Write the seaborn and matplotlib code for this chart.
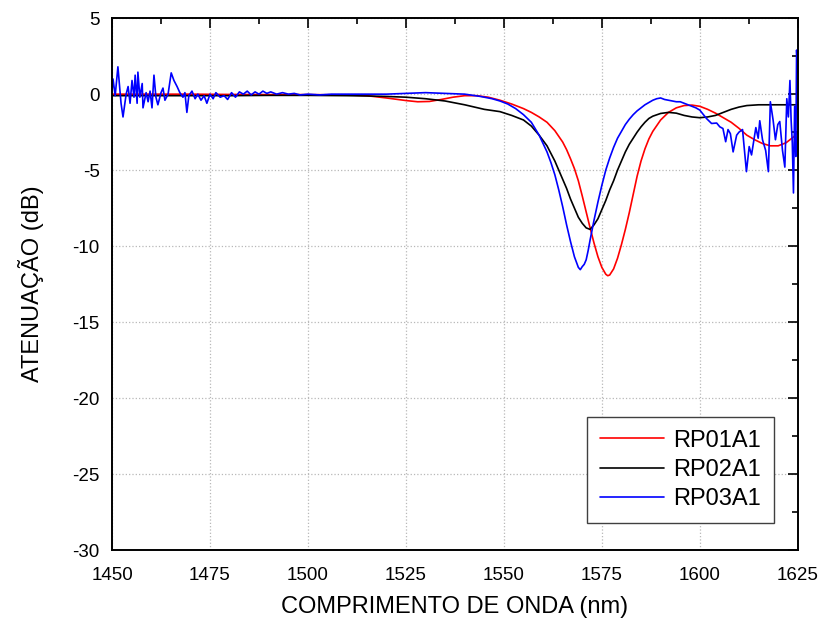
import matplotlib
matplotlib.use("Agg")
import matplotlib.pyplot as plt
from matplotlib.ticker import MultipleLocator
import seaborn as sns
import pandas as pd

# RP01A1 (vermelho)
red_wl = [1450, 1460, 1470, 1480, 1490, 1500, 1510, 1515, 1520, 1525, 1528, 1531, 1534,
          1537, 1540, 1543, 1546, 1549, 1552, 1555, 1557, 1559, 1561, 1563, 1565, 1566,
          1567, 1568, 1569, 1570, 1571, 1572, 1573, 1574, 1575, 1576, 1576.5, 1577, 1578,
          1579, 1580, 1581, 1582, 1583, 1584, 1585, 1586, 1587, 1588, 1590, 1592, 1594,
          1596, 1598, 1600, 1602, 1604, 1606, 1608, 1610, 1612, 1614, 1616, 1618, 1620,
          1622, 1624, 1625]
red_db = [0.0, 0.0, 0.0, -0.02, -0.03, -0.03, -0.05, -0.1, -0.25, -0.42, -0.5, -0.48, -0.35,
          -0.2, -0.1, -0.1, -0.2, -0.4, -0.65, -0.95, -1.2, -1.5, -1.85, -2.4, -3.15, -3.65,
          -4.25, -4.9, -5.7, -6.7, -7.75, -8.8, -9.8, -10.7, -11.4, -11.85, -11.95, -11.9, -11.5,
          -10.8, -9.9, -8.9, -7.8, -6.6, -5.4, -4.4, -3.6, -2.95, -2.45, -1.7, -1.2, -0.9,
          -0.75, -0.72, -0.8, -1.0, -1.25, -1.55, -1.85, -2.25, -2.7, -3.0, -3.25, -3.4, -3.4,
          -3.2, -2.8, -2.5]

# RP02A1 (preto)
black_wl = [1450, 1460, 1470, 1480, 1490, 1500, 1510, 1515, 1520, 1525, 1530, 1535, 1540,
            1545, 1549, 1552, 1555, 1557, 1559, 1561, 1563, 1565, 1566, 1567, 1568, 1569,
            1570, 1571, 1572, 1573, 1574, 1575, 1576, 1577, 1578, 1579, 1580, 1581, 1582,
            1583, 1584, 1585, 1586, 1587, 1588, 1590, 1592, 1594, 1596, 1598, 1600, 1602,
            1604, 1606, 1608, 1610, 1612, 1615, 1620, 1625]
black_db = [-0.1, -0.1, -0.1, -0.1, -0.08, -0.08, -0.1, -0.12, -0.15, -0.2, -0.3, -0.45, -0.7,
            -1.0, -1.15, -1.4, -1.7, -2.1, -2.7, -3.4, -4.4, -5.6, -6.2, -6.9, -7.5, -8.1,
            -8.5, -8.8, -8.9, -8.6, -8.2, -7.6, -7.0, -6.3, -5.7, -5.0, -4.4, -3.8, -3.3,
            -2.9, -2.5, -2.15, -1.85, -1.6, -1.45, -1.27, -1.2, -1.25, -1.4, -1.5, -1.55, -1.5,
            -1.4, -1.2, -1.0, -0.85, -0.75, -0.7, -0.7, -0.7]

# RP03A1 (azul)
blue_wl = [1450.0, 1450.25, 1450.8, 1451.5, 1452.3, 1452.8, 1453.6, 1454.1, 1454.6, 1455.1,
           1455.6, 1455.9, 1456.4, 1456.6, 1457.1, 1457.7, 1457.9, 1458.7, 1459.2, 1459.7,
           1460.2, 1460.7, 1461.2, 1461.7, 1462.5, 1463.0, 1463.5, 1464.3, 1465.1, 1465.8,
           1466.6, 1467.3, 1468.1, 1468.6, 1469.1, 1469.6, 1470.4, 1471.2, 1471.9, 1472.7,
           1473.5, 1474.2, 1475.0, 1475.8, 1476.5, 1477.6, 1478.6, 1479.5, 1480.5, 1481.5,
           1482.5, 1483.5, 1484.5, 1485.5, 1486.5, 1487.5, 1488.5, 1489.5, 1490.5, 1492,
           1493.5, 1495, 1496.5, 1498, 1500, 1503, 1506, 1510, 1515, 1520, 1525, 1530, 1535,
           1540, 1544, 1547, 1549, 1551, 1553, 1555, 1557, 1559, 1561, 1562, 1563, 1564,
           1565, 1566, 1567, 1568, 1569, 1569.5, 1570, 1570.5, 1571, 1571.5, 1572, 1573,
           1574, 1575, 1576, 1577, 1578, 1579, 1580, 1581, 1582, 1583, 1584, 1585, 1586,
           1587, 1588, 1589, 1590, 1591, 1592, 1593, 1594, 1595, 1596, 1597, 1598, 1599,
           1600, 1601.7, 1603, 1604.3, 1605.1, 1605.9, 1606.6, 1607.2, 1607.8, 1608.5,
           1609.4, 1610.0, 1610.9, 1611.9, 1612.6, 1613.2, 1614.3, 1614.9, 1615.3, 1616.0,
           1616.8, 1617.5, 1618.0, 1618.7, 1619.3, 1619.9, 1620.4, 1621.1, 1621.7, 1622.2,
           1622.6, 1623.0, 1623.3, 1623.6, 1623.9, 1624.2, 1624.5, 1624.7, 1625.0]
blue_db = [0.2, 1.0, -0.1, 1.8, -0.6, -1.5, 0.0, 0.5, -0.6, 0.9,
           -0.2, 1.25, -0.6, 1.45, -0.2, 0.7, -0.9, 0.1, -0.5, 0.2,
           -0.9, 1.25, -0.2, -0.7, 0.1, 0.4, -0.4, 0.0, 1.4, 0.9,
           0.5, 0.1, -0.2, 0.1, -1.2, -0.1, 0.2, -0.3, 0.0, -0.4,
           -0.1, -0.6, 0.0, -0.3, 0.1, -0.2, -0.1, -0.35, 0.1, -0.2,
           0.15, 0.0, 0.2, -0.05, 0.15, 0.0, 0.2, 0.05, 0.15, 0.0,
           0.1, 0.0, 0.05, -0.05, 0.0, -0.05, 0.0, 0.0, 0.0, 0.0, 0.05, 0.1, 0.05,
           0.0, -0.15, -0.3, -0.45, -0.65, -0.95, -1.35, -1.85, -2.7, -3.8, -4.5, -5.3, -6.3,
           -7.4, -8.6, -9.7, -10.7, -11.4, -11.55, -11.35, -11.2, -10.9, -10.3, -9.6, -8.3,
           -7.1, -6.0, -5.0, -4.2, -3.5, -2.9, -2.45, -2.0, -1.65, -1.35, -1.1, -0.9, -0.7,
           -0.55, -0.4, -0.3, -0.25, -0.35, -0.4, -0.45, -0.5, -0.5, -0.6, -0.7, -0.8, -0.9,
           -1.05, -1.6, -1.93, -1.9, -2.15, -2.26, -3.13, -2.33, -2.6, -3.8,
           -2.7, -2.5, -2.33, -5.1, -3.45, -4.0, -2.2, -2.9, -1.75, -3.0,
           -3.7, -5.1, -0.5, -1.7, -3.0, -2.0, -1.8, -3.7, -4.8, -0.3,
           -1.5, 0.9, -1.7, -3.2, -6.5, -0.8, -4.1, 2.9, 1.4]

series = ["RP01A1", "RP02A1", "RP03A1"]
colors = {"RP01A1": "#ff0000", "RP02A1": "#000000", "RP03A1": "#0000ff"}

df = pd.concat([
    pd.DataFrame({"wl": red_wl, "db": red_db, "amostra": "RP01A1"}),
    pd.DataFrame({"wl": black_wl, "db": black_db, "amostra": "RP02A1"}),
    pd.DataFrame({"wl": blue_wl, "db": blue_db, "amostra": "RP03A1"}),
], ignore_index=True)

sns.set_style("white")
plt.rcParams["font.family"] = ["Liberation Sans", "DejaVu Sans"]
plt.rcParams["axes.unicode_minus"] = False
plt.rcParams["text.color"] = "black"
plt.rcParams["axes.labelcolor"] = "black"

fig, ax = plt.subplots(figsize=(8.25, 6.27), dpi=100)
fig.subplots_adjust(left=0.1358, right=0.967, top=0.971, bottom=0.1228)

sns.lineplot(data=df, x="wl", y="db", hue="amostra", hue_order=series, palette=colors,
             estimator=None, sort=False, linewidth=1.2, ax=ax)

ax.set_xlim(1450, 1625)
ax.set_ylim(-30, 5)
ax.xaxis.set_major_locator(MultipleLocator(25))
ax.xaxis.set_minor_locator(MultipleLocator(12.5))
ax.yaxis.set_major_locator(MultipleLocator(5))
ax.yaxis.set_minor_locator(MultipleLocator(2.5))
ax.tick_params(which="both", direction="in", top=True, right=True, colors="black",
               labelsize=13.5, width=1.2)
ax.tick_params(which="major", length=7)
ax.tick_params(which="minor", length=4)
ax.tick_params(axis="x", which="major", pad=12)
ax.tick_params(axis="y", which="major", pad=9)
ax.grid(True, which="major", linestyle=":", color="#b8b8b8", linewidth=0.9)
for s in ax.spines.values():
    s.set_color("black")
    s.set_linewidth(1.4)

ax.set_xlabel("COMPRIMENTO DE ONDA (nm)", fontsize=17, labelpad=9)
ax.set_ylabel("ATENUAÇÃO (dB)", fontsize=17, labelpad=20)

old = ax.get_legend()
handles = old.legend_handles
labels = [t.get_text() for t in old.texts]
leg = ax.legend(handles, labels, loc="lower right", bbox_to_anchor=(0.965, 0.051),
                borderaxespad=0, fontsize=17, handlelength=2.7, handletextpad=0.4,
                frameon=True, fancybox=False, edgecolor="#404040", framealpha=1,
                labelspacing=0.3, borderpad=0.55)
leg.get_frame().set_linewidth(1.0)

fig.savefig("out.png", dpi=100)
